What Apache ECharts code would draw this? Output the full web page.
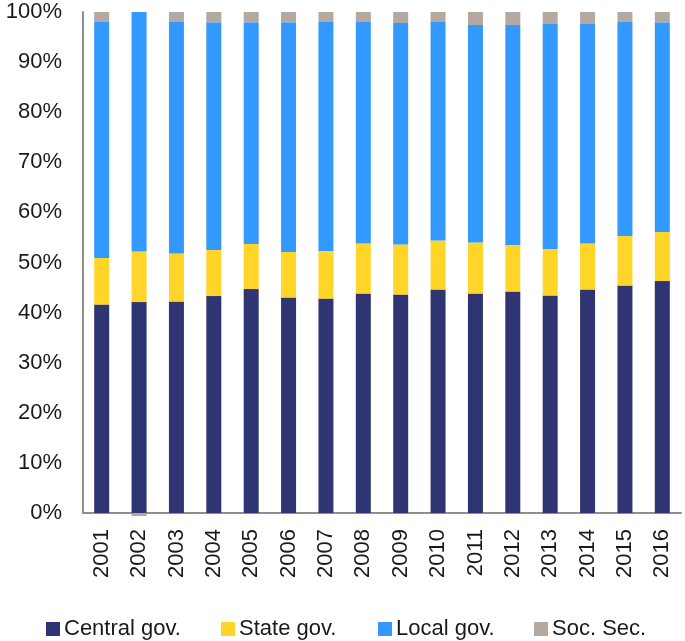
<!DOCTYPE html>
<html>
<head>
<meta charset="utf-8">
<script src="https://cdn.jsdelivr.net/npm/echarts@6/dist/echarts.min.js"></script>
<style>
html,body{margin:0;padding:0;background:#fff;}
#chart{width:685px;height:641px;}
</style>
</head>
<body>
<div id="chart"></div>
<script>
const years = ['2001','2002','2003','2004','2005','2006','2007','2008','2009','2010','2011','2012','2013','2014','2015','2016'];
const centralGov = [41.6, 42.1, 42.2, 43.3, 44.7, 43.0, 42.8, 43.8, 43.6, 44.6, 43.8, 44.2, 43.4, 44.6, 45.4, 46.3];
const stateGov   = [9.3, 10.1, 9.6, 9.2, 9.0, 9.1, 9.5, 10.0, 10.0, 9.8, 10.2, 9.3, 9.3, 9.2, 9.9, 9.8];
const localGov   = [47.2, 47.8, 46.3, 45.4, 44.2, 45.8, 45.8, 44.3, 44.2, 43.6, 43.4, 43.9, 45.0, 43.9, 42.8, 41.8];
const socSec     = [1.9, -0.6, 1.9, 2.1, 2.1, 2.1, 1.9, 1.9, 2.2, 2.0, 2.6, 2.6, 2.3, 2.3, 1.9, 2.1];
const seriesNames = ['Central gov.', 'State gov.', 'Local gov.', 'Soc. Sec.'];
const colors = ['#2F3572', '#FFD528', '#3399FF', '#B5A8A0'];

const chart = echarts.init(document.getElementById('chart'));
const font = 'Liberation Sans, Arial, sans-serif';
const legendLefts = [46, 221, 378, 534];
const dataSets = [centralGov, stateGov, localGov, socSec];

chart.setOption({
  animation: false,
  color: colors,
  grid: { left: 83, right: 4, top: 12, bottom: 128, containLabel: false },
  legend: seriesNames.map((n, i) => ({
    data: [n],
    left: legendLefts[i],
    top: 618,
    itemWidth: 14,
    itemHeight: 14,
    itemGap: 4,
    icon: 'rect',
    textStyle: { fontFamily: font, fontSize: 22, color: '#1a1a1a', padding: [0,0,0,-1] },
    padding: 0
  })),
  xAxis: {
    type: 'category',
    data: years,
    axisLine: { show: true, lineStyle: { color: '#8f8f8f', width: 2 } },
    axisTick: { show: false },
    axisLabel: { rotate: 90, margin: 16, fontFamily: font, fontSize: 22, color: '#1a1a1a' }
  },
  yAxis: {
    type: 'value',
    min: 0,
    max: 100,
    interval: 10,
    axisLine: { show: true, lineStyle: { color: '#8f8f8f', width: 2 } },
    axisTick: { show: false },
    splitLine: { show: false },
    axisLabel: { formatter: '{value}%', margin: 21, fontFamily: font, fontSize: 22, color: '#1a1a1a' }
  },
  series: seriesNames.map((n, i) => ({
    name: n,
    type: 'bar',
    stack: 'total',
    barWidth: 15,
    clip: false,
    z: i === 3 ? 1 : 2,
    itemStyle: { color: colors[i] },
    data: dataSets[i]
  }))
});
</script>
</body>
</html>
